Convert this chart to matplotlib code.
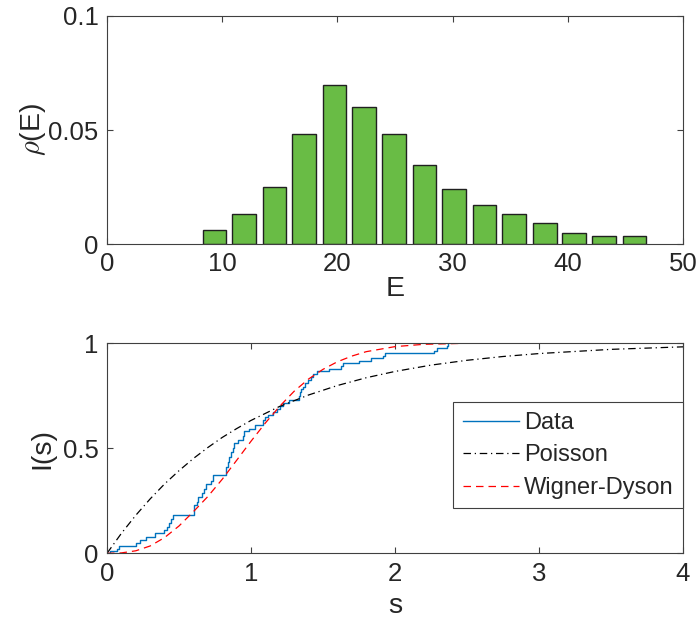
import numpy as np
import matplotlib
matplotlib.use("Agg")
import matplotlib.pyplot as plt

# level density histogram
e_centers = [9.33, 11.93, 14.54, 17.14, 19.75, 22.35, 24.95, 27.56,
             30.16, 32.77, 35.37, 37.98, 40.58, 43.18, 45.79]
rho = [0.0063, 0.0130, 0.0251, 0.0481, 0.0697, 0.0602, 0.0481, 0.0345,
       0.0240, 0.0171, 0.0130, 0.0091, 0.0050, 0.0036, 0.0036]

# empirical integrated spacing distribution: jump positions and levels after each jump
s_data = [0.0, 0.020, 0.067, 0.086, 0.200, 0.229, 0.268, 0.333, 0.398, 0.414,
          0.431, 0.444, 0.461, 0.606, 0.622, 0.634, 0.657, 0.674, 0.688, 0.722,
          0.738, 0.826, 0.838, 0.850, 0.861, 0.873, 0.884, 0.907, 0.942, 0.954,
          0.988, 1.030, 1.080, 1.100, 1.120, 1.150, 1.180, 1.200, 1.225, 1.266,
          1.330, 1.340, 1.350, 1.363, 1.375, 1.398, 1.415, 1.433, 1.460, 1.544,
          1.625, 1.640, 1.750, 1.833, 1.919, 1.930, 2.273, 2.290, 2.359, 2.365]
i_data = [0.000, 0.011, 0.022, 0.035, 0.048, 0.063, 0.079, 0.095, 0.110, 0.124,
          0.143, 0.162, 0.180, 0.230, 0.245, 0.270, 0.288, 0.305, 0.330, 0.345,
          0.373, 0.410, 0.436, 0.460, 0.483, 0.500, 0.523, 0.540, 0.558, 0.580,
          0.590, 0.610, 0.634, 0.650, 0.660, 0.673, 0.685, 0.700, 0.716, 0.730,
          0.748, 0.765, 0.780, 0.792, 0.810, 0.824, 0.838, 0.851, 0.868, 0.878,
          0.890, 0.903, 0.914, 0.927, 0.938, 0.951, 0.963, 0.975, 0.986, 1.000]

# reference curves
s_poi = [0, 0.1, 0.2, 0.3, 0.4, 0.5, 0.6, 0.7, 0.8, 0.9, 1.0, 1.2, 1.4, 1.6,
         1.8, 2.0, 2.25, 2.5, 2.75, 3.0, 3.5, 4.0]
i_poi = [0, 0.095, 0.181, 0.259, 0.330, 0.393, 0.451, 0.503, 0.551, 0.593,
         0.632, 0.699, 0.753, 0.798, 0.835, 0.865, 0.895, 0.918, 0.936, 0.950,
         0.970, 0.982]
s_wd = [0, 0.1, 0.2, 0.3, 0.4, 0.5, 0.6, 0.7, 0.8, 0.9, 1.0, 1.1, 1.2, 1.3,
        1.4, 1.5, 1.6, 1.7, 1.8, 2.0, 2.2, 2.5, 3.0, 4.0]
i_wd = [0, 0.002, 0.012, 0.035, 0.075, 0.130, 0.198, 0.270, 0.352, 0.442,
        0.533, 0.620, 0.700, 0.771, 0.829, 0.875, 0.911, 0.938, 0.959, 0.983,
        0.994, 0.999, 1.0, 1.0]

plt.rcParams['font.family'] = ['Liberation Sans', 'DejaVu Sans']
plt.rcParams['mathtext.fontset'] = 'cm'

AX_COL = '#404040'
TXT_COL = '#262626'


def style_axes(ax):
    for sp in ax.spines.values():
        sp.set_color(AX_COL)
        sp.set_linewidth(0.8)
    ax.tick_params(direction='in', length=4.3, width=0.8, color=AX_COL,
                   labelcolor=TXT_COL, labelsize=18.5, top=True, right=True,
                   pad=6)


fig = plt.figure(figsize=(6.98, 6.32), dpi=100)

# top: level density
ax1 = fig.add_axes([0.1533, 0.6139, 0.8252, 0.3608])
ax1.bar(e_centers, rho, width=2.08, color='#69BC45', edgecolor='#202020',
        linewidth=1.0, zorder=2)
ax1.set_xlim(0, 50)
ax1.set_ylim(0, 0.1)
ax1.set_xticks([0, 10, 20, 30, 40, 50])
ax1.set_yticks([0, 0.05, 0.1])
ax1.set_yticklabels(['0', '0.05', '0.1'])
ax1.set_xlabel('E', fontsize=20.5, color=TXT_COL, labelpad=0)
ax1.set_ylabel(r'$\rho$(E)', fontsize=20.5, color=TXT_COL, labelpad=0)
style_axes(ax1)

# bottom: integrated spacing distribution
ax2 = fig.add_axes([0.1533, 0.1245, 0.8252, 0.3327])
ax2.step(s_data, i_data, where='post', color='#0072BD', linewidth=1.0,
         label='Data')
ax2.plot(s_poi, i_poi, color='black', linestyle='-.', linewidth=0.9,
         dashes=(6, 3, 1, 3), label='Poisson')
ax2.plot(s_wd, i_wd, color='#FF0000', linestyle='--', linewidth=0.9,
         dashes=(6, 4), label='Wigner-Dyson')
ax2.set_xlim(0, 4)
ax2.set_ylim(0, 1)
ax2.set_xticks([0, 1, 2, 3, 4])
ax2.set_yticks([0, 0.5, 1])
ax2.set_yticklabels(['0', '0.5', '1'])
ax2.set_xlabel('s', fontsize=20.5, color=TXT_COL, labelpad=5)
ax2.set_ylabel('I(s)', fontsize=20.5, color=TXT_COL, labelpad=5)
style_axes(ax2)

leg = ax2.legend(loc='upper right', bbox_to_anchor=(1.0, 0.718),
                 fontsize=17, frameon=True, fancybox=False, framealpha=1,
                 edgecolor='#404040', handlelength=2.4, handletextpad=0.2,
                 borderpad=0.4, labelspacing=0.45, borderaxespad=0)
leg.get_frame().set_linewidth(0.8)
for t in leg.get_texts():
    t.set_color(TXT_COL)

fig.savefig('out.png', dpi=100)
